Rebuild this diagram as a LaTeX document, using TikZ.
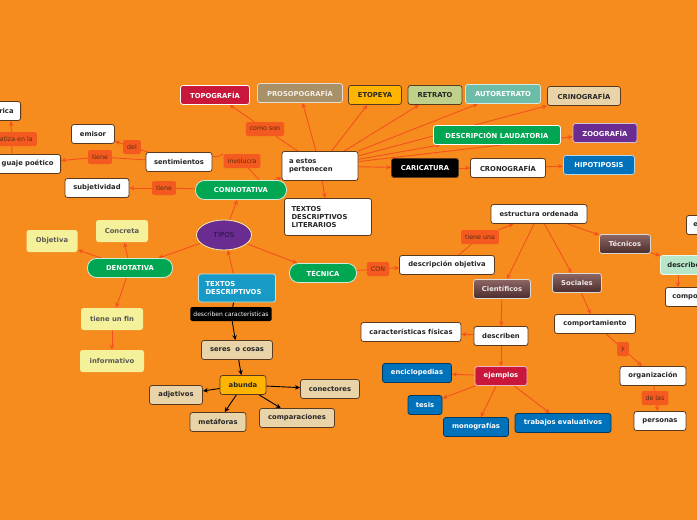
\documentclass[tikz,border=0pt]{standalone}
\usepackage{fontspec}
\setmainfont{DejaVu Sans}
\usetikzlibrary{positioning,shapes.geometric,arrows.meta,calc}
\definecolor{fondo}{HTML}{F68B1E}
\definecolor{flecha}{HTML}{F4511E}
\definecolor{etiq}{HTML}{F45A1F}
\definecolor{txtetiq}{HTML}{5A2D14}
\definecolor{borde}{HTML}{5A3A1E}
\definecolor{verde}{HTML}{00A651}
\definecolor{rojo}{HTML}{C8173A}
\definecolor{morado}{HTML}{6A2C91}
\definecolor{azul}{HTML}{0072BB}
\definecolor{celeste}{HTML}{179BC6}
\definecolor{amarillo}{HTML}{FFB400}
\definecolor{crema}{HTML}{E9D3A8}
\definecolor{limon}{HTML}{F5F09A}
\definecolor{oliva}{HTML}{BFD08A}
\definecolor{turquesa}{HTML}{6CBCA8}
\definecolor{caqui}{HTML}{A89068}
\definecolor{menta}{HTML}{B8E6C8}
\definecolor{cafearriba}{HTML}{8E6565}
\definecolor{cafeabajo}{HTML}{4B2D2D}
\pgfdeclarelayer{fondo}
\pgfdeclarelayer{lineas}
\pgfsetlayers{fondo,lineas,main}
\tikzset{
  caja/.style={draw=borde, line width=0.8pt, rounded corners=2.5pt, fill=white,
    text=black!85, font=\fontsize{6.8}{8.2}\selectfont\bfseries,
    minimum height=19pt, inner xsep=7pt, inner ysep=2pt},
  ancho/.style={minimum width=#1pt},
  verdebox/.style={caja, draw=white!80!verde, fill=verde, text=white, rounded corners=9pt},
  oscuro/.style={caja, fill=#1, draw=white!70!#1, text=white},
  amar/.style={caja, draw=none, fill=limon, text=black!65, minimum height=22pt},
  crem/.style={caja, fill=crema},
  azulbox/.style={caja, fill=azul, draw=azul!50!black, text=white},
  cafebox/.style={caja, draw=white!85!black, top color=cafearriba, bottom color=cafeabajo,
    text=white!85!cafearriba},
  lbl/.style={fill=etiq, rounded corners=1.5pt, text=txtetiq,
    font=\fontsize{6.3}{7.5}\selectfont, inner xsep=4pt, inner ysep=2pt, minimum height=14pt},
  negro/.style={fill=black, rounded corners=1.5pt, text=white,
    font=\fontsize{6}{7}\selectfont, inner xsep=3pt, minimum height=14pt},
  flechas/.style={draw=flecha, line width=0.9pt, -{Stealth[length=5pt,width=4.5pt]}},
  linea/.style={draw=flecha, line width=0.9pt},
  negras/.style={draw=black, line width=0.9pt, -{Stealth[length=5pt,width=4.5pt]}},
  linean/.style={draw=black, line width=0.9pt}
}
\begin{document}
\begin{tikzpicture}[x=1pt,y=-1pt]
\begin{pgfonlayer}{fondo}
\fill[fondo] (0,0) rectangle (697,520);
\end{pgfonlayer}
\useasboundingbox (0,0) rectangle (697,520);
% Izquierda: connotativa
\node[caja, anchor=east, text width=44pt, align=right] (rica) at (21,111) {rica};
\node[lbl, anchor=east, text width=40pt, align=right] (matiza) at (37,139) {atiza en la};
\node[caja, anchor=east, text width=60pt, align=right] (lenguaje) at (61,164) {guaje poético};
\node[caja, ancho=43] (emisor) at (93,134) {emisor};
\node[lbl] (tiene1) at (100,157) {tiene};
\node[lbl] (del) at (132,147) {del};
\node[caja, ancho=66] (sentim) at (179,162) {sentimientos};
\node[lbl] (involucra) at (242,161) {involucra};
\node[caja, ancho=64] (subjet) at (97,188) {subjetividad};
\node[lbl] (tiene2) at (164,188) {tiene};
\node[verdebox, ancho=91] (connot) at (241,190) {CONNOTATIVA};
% Arriba: tipos literarios
\node[lbl] (comoson) at (265,129) {como son};
\node[oscuro=rojo, draw=white, ancho=69] (topo) at (215,95) {TOPOGRAFÍA};
\node[oscuro=caqui, text=white!85!caqui, ancho=85] (proso) at (300,93) {PROSOPOGRAFÍA};
\node[caja, fill=amarillo, ancho=53] (etopeya) at (375,95) {ETOPEYA};
\node[caja, fill=oliva, ancho=54] (retrato) at (435,95) {RETRATO};
\node[oscuro=turquesa, ancho=75] (autor) at (503,94) {AUTORETRATO};
\node[caja, fill=crema, ancho=73] (crino) at (584,96) {CRINOGRAFÍA};
\node[oscuro=verde, draw=white, ancho=127] (laud) at (497,135) {DESCRIPCIÓN LAUDATORIA};
\node[oscuro=morado, ancho=64] (zoo) at (605,133) {ZOOGRAFÍA};
\node[caja, text width=62pt, align=left, minimum height=29pt] (estos) at (320,166) {a estos\\pertenecen};
\node[caja, fill=black, text=white, ancho=67] (carica) at (425,168) {CARICATURA};
\node[caja, ancho=75] (crono) at (508,168) {CRONOGRAFÍA};
\node[oscuro=azul, ancho=71] (hipo) at (599,165) {HIPOTIPOSIS};
\node[caja, text width=73pt, align=left, minimum height=37pt] (literarios) at (328,217) {TEXTOS\\DESCRIPTIVOS\\LITERARIOS};
% Centro
\node[ellipse, fill=morado, draw=limon!80, line width=0.8pt, minimum width=55pt, minimum height=30pt,
  text=black!60!morado, font=\fontsize{7}{8}\selectfont] (tipos) at (224,235) {TIPOS};
\node[verdebox, ancho=85] (denot) at (130,268) {DENOTATIVA};
\node[amar, ancho=52] (concreta) at (122,231) {Concreta};
\node[amar, ancho=51] (objetiva) at (52,241) {Objetiva};
\node[amar, ancho=62] (fin) at (112,319) {tiene un fin};
\node[amar, ancho=64] (informativo) at (112,361) {informativo};
\node[oscuro=celeste, text width=63pt, align=left, minimum height=28pt] (textos) at (237,288) {TEXTOS\\DESCRIPTIVOS};
\node[negro] (describen1) at (231,314) {describen características};
\node[verdebox, ancho=67] (tecnica) at (323,273) {TÉCNICA};
\node[lbl] (con) at (378,269) {CON};
\node[caja, ancho=95] (descobj) at (447,265) {descripción objetiva};
\node[crem, ancho=71] (seres) at (237,350) {seres\ \ o cosas};
\node[caja, fill=amarillo, ancho=46] (abunda) at (243,385) {abunda};
\node[crem, ancho=53] (adjetivos) at (176,395) {adjetivos};
\node[crem, ancho=59] (conectores) at (330,389) {conectores};
\node[crem, ancho=56] (metaforas) at (218,422) {metáforas};
\node[crem, ancho=75] (compar) at (297,418) {comparaciones};
% Derecha: tecnica
\node[caja, ancho=96] (estructura) at (539,214) {estructura ordenada};
\node[lbl] (tieneuna) at (480,237) {tiene una};
\node[cafebox, ancho=51] (tecnicos) at (625,244) {Técnicos};
\node[cafebox, ancho=57] (cientif) at (502,289) {Científicos};
\node[cafebox, ancho=49] (sociales) at (577,283) {Sociales};
\node[caja, fill=menta, draw=white!70!menta, anchor=west, text width=40pt, align=left] (describ) at (660,265) {describen};
\node[caja, anchor=west, text width=60pt, align=left] (compo) at (665,297) {componentes};
\node[caja, anchor=west, text width=30pt, align=left] (elem) at (686,225) {e};
\node[caja, ancho=54] (describen2) at (501,336) {describen};
\node[caja, ancho=100] (fisicas) at (411,332) {características físicas};
\node[oscuro=rojo, ancho=52] (ejemplos) at (501,376) {ejemplos};
\node[azulbox, ancho=69] (encic) at (417,373) {enciclopedias};
\node[azulbox, ancho=34] (tesis) at (425,405) {tesis};
\node[azulbox, ancho=65] (mono) at (476,427) {monografías};
\node[azulbox, ancho=96] (trabajos) at (563,423) {trabajos evaluativos};
\node[caja, ancho=81] (comport) at (595,324) {comportamiento};
\node[lbl] (y) at (623,349) {y};
\node[caja, ancho=66] (organiz) at (653,376) {organización};
\node[lbl] (delas) at (655,398) {de las};
\node[caja, ancho=52] (personas) at (660,421) {personas};
% Conectores
\begin{pgfonlayer}{lineas}
\draw[flechas] (textos) -- (tipos);
\draw[flechas] (tipos) -- (connot);
\draw[flechas] (tipos) -- (denot);
\draw[flechas] (tipos) -- (tecnica);
\draw[flechas] (connot) -- (estos);
\draw[linea] (connot) -- (tiene2);
\draw[flechas] (tiene2) -- (subjet);
\draw[linea] ($(connot.north)!0.4!(connot.north east)$) -- (involucra);
\draw[flechas] (involucra.north west) to[bend left=50] ($(sentim.north east)+(-5,0)$);
\draw[linea] (sentim) -- (del);
\draw[flechas] (del) -- (emisor);
\draw[linea] (sentim) -- (tiene1);
\draw[flechas] (tiene1) -- (lenguaje);
\draw[flechas] ($(lenguaje.north east)+(-49,0)$) -- ($(rica.south east)+(-10,0)$);
\draw[linea] (estos) -- (comoson);
\draw[flechas] (comoson) -- (topo);
\draw[flechas] (estos) -- (proso);
\draw[flechas] (estos) -- (etopeya);
\draw[flechas] (estos) -- (retrato);
\draw[flechas] (estos) -- (autor);
\draw[flechas] (estos) -- (crino);
\draw[flechas] (estos) -- (laud);
\draw[flechas] (estos) -- (zoo);
\draw[flechas] (estos) -- (carica);
\draw[flechas] (carica) -- (crono);
\draw[flechas] (crono) -- (hipo);
\draw[flechas] (estos) -- (literarios);
\draw[flechas] (denot) -- (concreta);
\draw[flechas] (denot) -- (objetiva);
\draw[flechas] (denot) -- (fin);
\draw[flechas] (fin) -- (informativo);
\draw[linean] (textos) -- (describen1);
\draw[negras] (describen1) -- (seres);
\draw[negras] (seres) -- (abunda);
\draw[negras] (abunda) -- (adjetivos);
\draw[negras] (abunda) -- (conectores);
\draw[negras] (abunda) -- (metaforas);
\draw[negras] (abunda) -- (compar);
\draw[linea] (tecnica) -- (con);
\draw[flechas] (con) -- (descobj);
\draw[linea] (descobj) -- (tieneuna);
\draw[flechas] (tieneuna) -- (estructura);
\draw[flechas] (estructura) -- (cientif);
\draw[flechas] (estructura) -- (sociales);
\draw[flechas] (estructura) -- (tecnicos);
\draw[flechas] (tecnicos) -- (describ);
\draw[flechas] ($(describ.south west)+(18,0)$) -- ($(compo.north west)+(13,0)$);
\draw[flechas] (cientif) -- (describen2);
\draw[flechas] (describen2) -- (fisicas);
\draw[flechas] (describen2) -- (ejemplos);
\draw[flechas] (ejemplos) -- (encic);
\draw[flechas] (ejemplos) -- (tesis);
\draw[flechas] (ejemplos) -- (mono);
\draw[flechas] (ejemplos) -- (trabajos);
\draw[flechas] (sociales) -- (comport);
\draw[linea] (comport) -- (y);
\draw[flechas] (y) -- (organiz);
\draw[linea] (organiz) -- (delas);
\draw[flechas] (delas) -- (personas);
\end{pgfonlayer}
\end{tikzpicture}
\end{document}
